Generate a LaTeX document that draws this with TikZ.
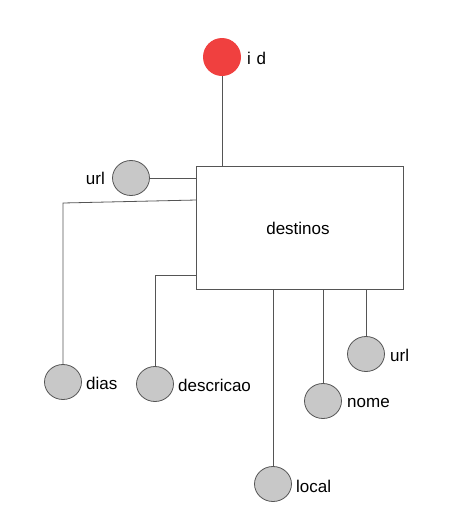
\documentclass[tikz,border=0pt]{standalone}
\usepackage{fontspec}
\setmainfont{Liberation Sans}
\usetikzlibrary{shapes.geometric}
\definecolor{attrfill}{HTML}{C8C8C8}
\definecolor{linec}{HTML}{555555}
\definecolor{keyred}{HTML}{F0403F}
\begin{document}
\begin{tikzpicture}[x=1pt,y=-1pt,
  attr/.style={ellipse, draw=linec, fill=attrfill, line width=0.8pt, minimum width=37pt, minimum height=35pt, inner sep=0pt},
  keyattr/.style={circle, fill=keyred, minimum size=38pt, inner sep=0pt},
  lbl/.style={font=\fontsize{17}{19}\selectfont, inner sep=0pt},
  conn/.style={draw=linec, line width=0.8pt},
  entity/.style={draw=linec, line width=0.8pt, fill=white, inner sep=0pt}
]
\useasboundingbox (0,0) rectangle (473,528);
% entity
\node[entity, minimum width=207pt, minimum height=123pt] (dest) at (300,227.5) {};
\node[lbl] (destl) at (298,228) {destinos};
% id
\node[keyattr] (id) at (222,57) {};
\node[lbl, anchor=west] (idl) at (247,58) {i\,\,d};
\draw[conn] (id.south) -- (id.south |- dest.north);
% url left
\node[attr] (url1) at (131,178) {};
\node[lbl, anchor=east] (url1l) at (105,178) {url};
\draw[conn] (url1.east) -- (url1.east -| dest.west);
% dias
\node[attr] (dias) at (63,382) {};
\node[lbl, anchor=west] (diasl) at (86,383) {dias};
\coordinate (c1) at (63,203);
\coordinate (c1b) at (196.5,200);
\draw[conn] (c1b) -- (c1) -- (dias.north);
% descricao
\node[attr] (desc) at (155,384) {};
\node[lbl, anchor=west] (descl) at (178,385) {descricao};
\coordinate (c2) at (155,275);
\draw[conn] (c2 -| dest.west) -- (c2) -- (desc.north);
% local
\node[attr] (local) at (273,484) {};
\node[lbl, anchor=west] (locall) at (296,486) {local};
\draw[conn] (local.north |- dest.south) -- (local.north);
% nome
\node[attr] (nome) at (323,401) {};
\node[lbl, anchor=west] (nomel) at (347,403) {nome};
\draw[conn] (nome.north |- dest.south) -- (nome.north);
% url right
\node[attr] (url2) at (366,354) {};
\node[lbl, anchor=west] (url2l) at (390,355) {url};
\draw[conn] (url2.north |- dest.south) -- (url2.north);
\end{tikzpicture}
\end{document}
